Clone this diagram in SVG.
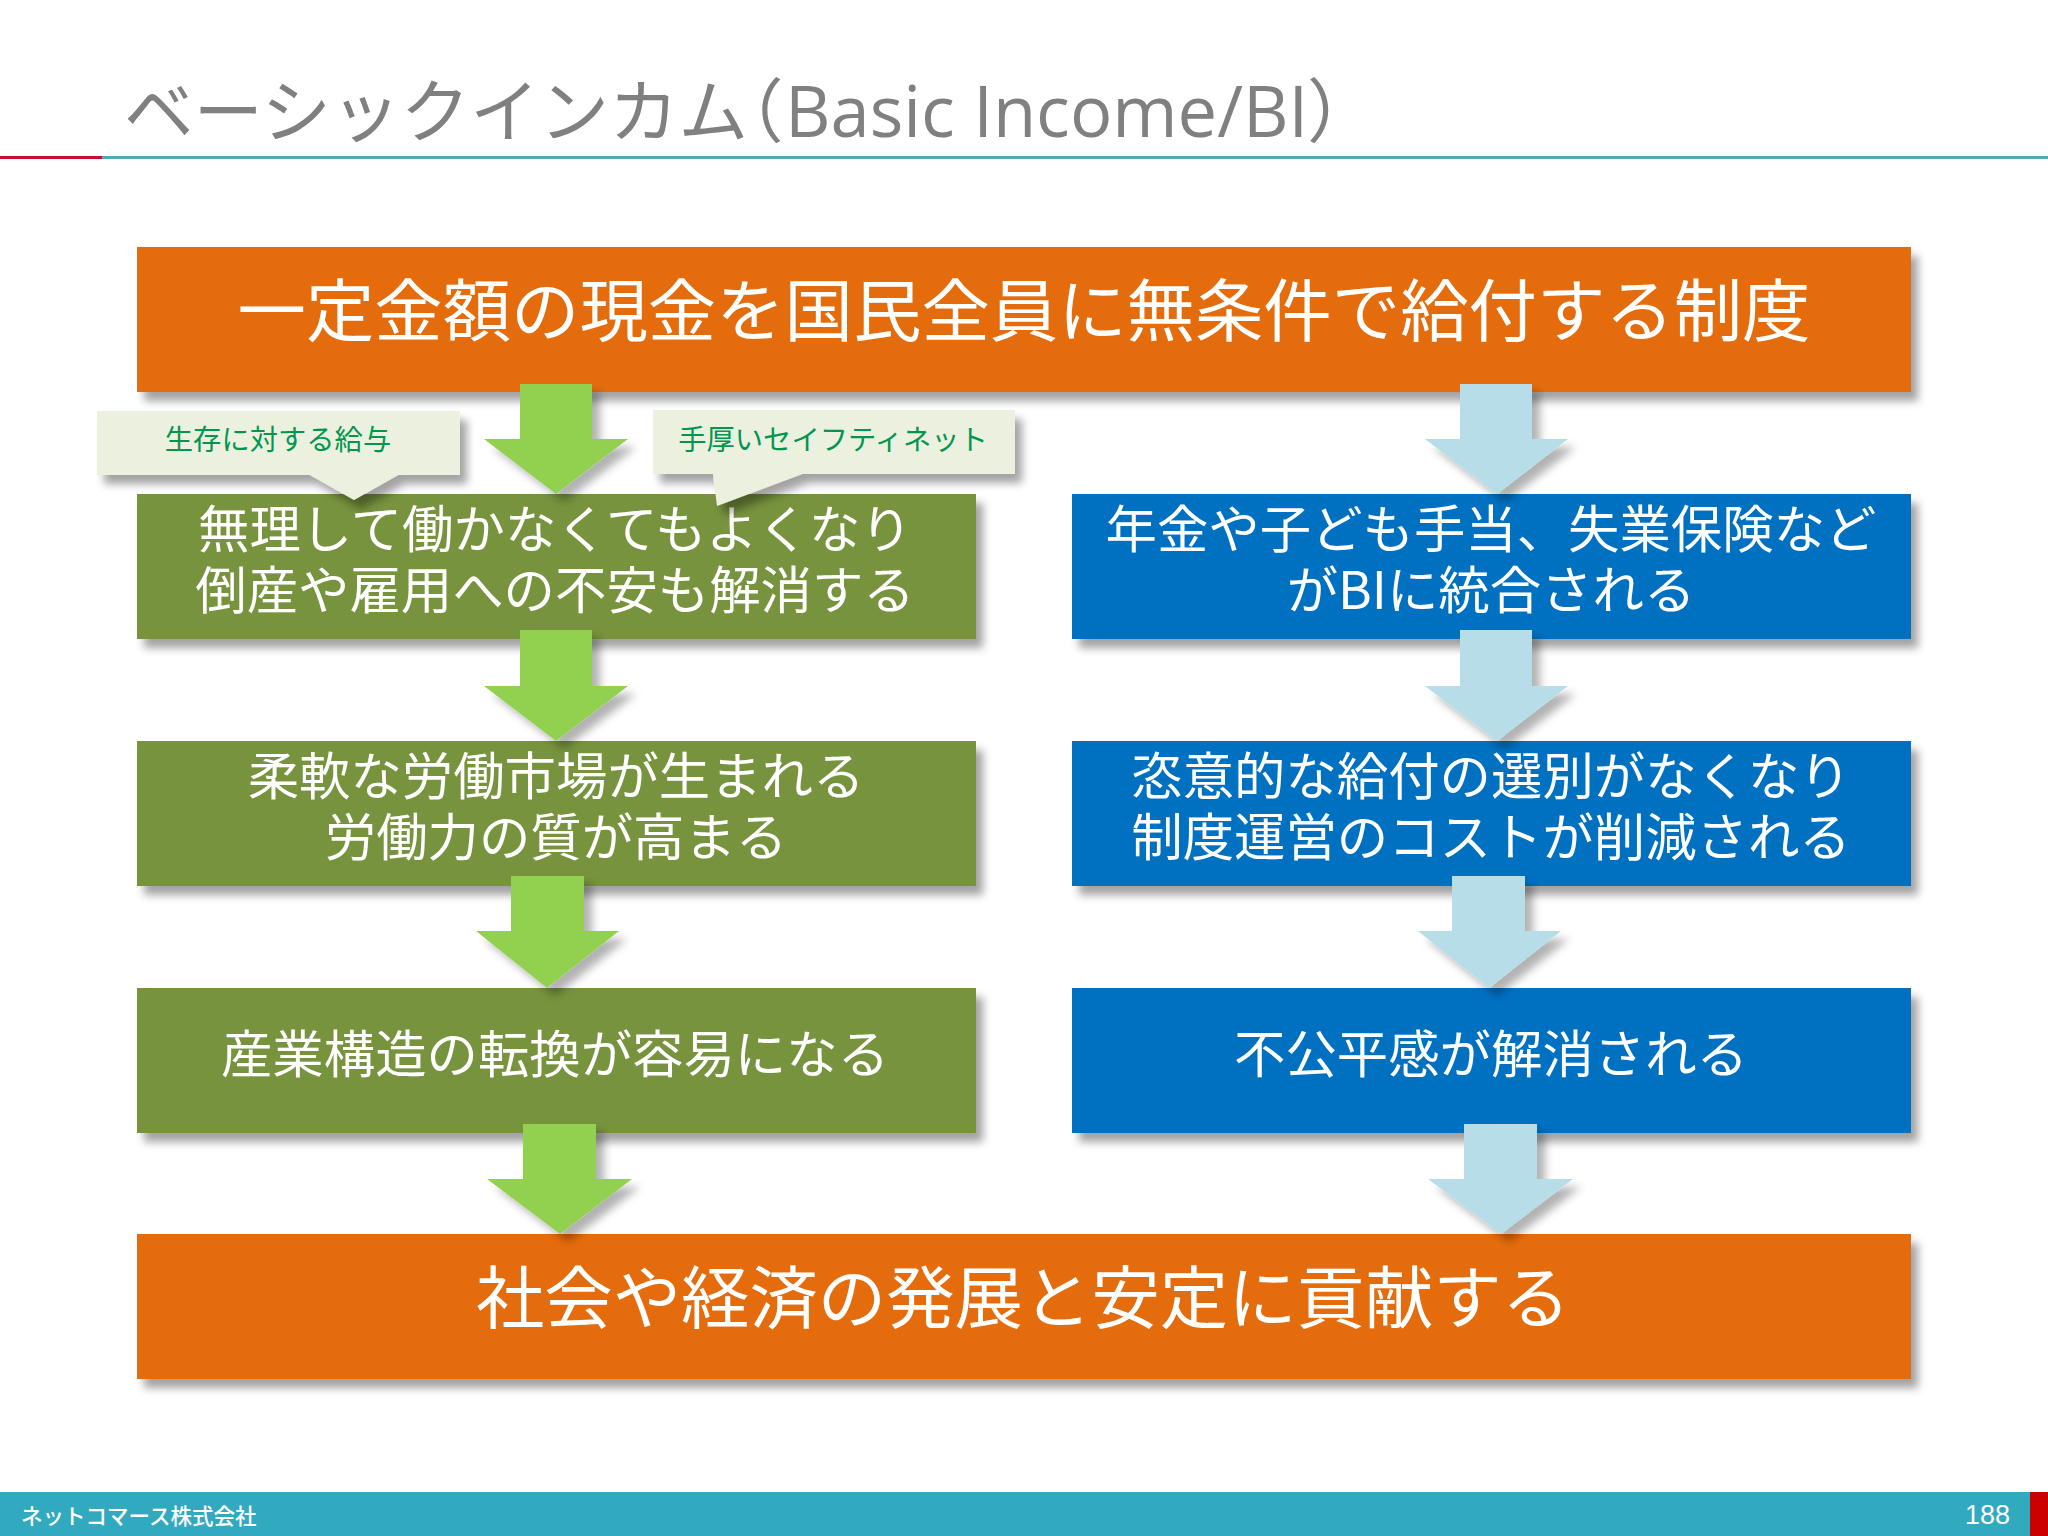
<svg xmlns="http://www.w3.org/2000/svg" width="2048" height="1536" viewBox="0 0 2048 1536">
<defs>
<filter id="sh" x="-10%" y="-20%" width="120%" height="150%"><feDropShadow dx="7" dy="9" stdDeviation="4.5" flood-color="#000" flood-opacity="0.36"/></filter>
<filter id="sha" x="-30%" y="-30%" width="170%" height="170%"><feDropShadow dx="8" dy="8" stdDeviation="4.5" flood-color="#000" flood-opacity="0.3"/></filter>
</defs>
<style>
text{font-family:"Noto Sans CJK JP","Noto Sans",sans-serif;font-weight:400}
.o{fill:#E46C0A;filter:url(#sh)}
.g{fill:#77933C;filter:url(#sh)}
.b{fill:#0070C0;filter:url(#sh)}
.ag{fill:#92D050;filter:url(#sha)}
.ab{fill:#B7DEE8;filter:url(#sha)}
.c{fill:#EBF1DE;filter:url(#sh)}
.t{fill:#fff;text-anchor:middle;font-size:51.4px}
.tl{fill:#fff;text-anchor:middle;font-size:68.4px}
.ct{fill:#00964F;text-anchor:middle;font-size:28.3px}
</style>
<rect width="2048" height="1536" fill="#fff"/>
<g id="header">
<text x="124" y="137" font-size="69.5" fill="#808080">ベーシックインカム<tspan x="714">（</tspan><tspan x="785" font-family="'Open Sans',sans-serif" font-size="70.5">Basic Income/BI</tspan><tspan x="1307">）</tspan></text>
<rect x="0" y="156" width="102" height="3" fill="#C8102E"/>
<rect x="102" y="156" width="1946" height="3" fill="#4FA9B8"/>
</g>
<g id="node-top"><rect class="o" x="137" y="247" width="1774" height="145"/><text class="tl" x="1024" y="336">一定金額の現金を国民全員に無条件で給付する制度</text></g>
<g id="node-g1"><rect class="g" x="137" y="494" width="839" height="145"/><text class="t" x="555" y="548">無理して働かなくてもよくなり</text><text class="t" x="555" y="609">倒産や雇用への不安も解消する</text></g>
<g id="node-b1"><rect class="b" x="1072" y="494" width="839" height="145"/><text class="t" x="1491" y="548">年金や子ども手当、失業保険など</text><text class="t" x="1491" y="609">がBIに統合される</text></g>
<g id="node-g2"><rect class="g" x="137" y="741" width="839" height="145"/><text class="t" x="556" y="795">柔軟な労働市場が生まれる</text><text class="t" x="556" y="856">労働力の質が高まる</text></g>
<g id="node-b2"><rect class="b" x="1072" y="741" width="839" height="145"/><text class="t" x="1491" y="795">恣意的な給付の選別がなくなり</text><text class="t" x="1491" y="856">制度運営のコストが削減される</text></g>
<g id="node-g3"><rect class="g" x="137" y="988" width="839" height="145"/><text class="t" x="555" y="1073">産業構造の転換が容易になる</text></g>
<g id="node-b3"><rect class="b" x="1072" y="988" width="839" height="145"/><text class="t" x="1491" y="1073">不公平感が解消される</text></g>
<g id="node-bottom"><rect class="o" x="137" y="1234" width="1774" height="145"/><text class="tl" x="1023" y="1323">社会や経済の発展と安定に貢献する</text></g>
<g id="connectors">
<polygon class="ag" points="520,384 592,384 592,439 628,439 556,494 484,439 520,439"/>
<polygon class="ab" points="1460,384 1532,384 1532,439 1568,439 1497,494 1425,439 1460,439"/>
<polygon class="ag" points="520,630 592,630 592,686 628,686 556,741 484,686 520,686"/>
<polygon class="ab" points="1460,630 1532,630 1532,686 1568,686 1497,741 1425,686 1460,686"/>
<polygon class="ag" points="511,876 584,876 584,931 619,931 547,988 476,931 511,931"/>
<polygon class="ab" points="1452,876 1525,876 1525,931 1561,931 1489,988 1418,931 1452,931"/>
<polygon class="ag" points="523,1124 596,1124 596,1179 632,1179 560,1234 487,1179 523,1179"/>
<polygon class="ab" points="1464,1124 1537,1124 1537,1179 1573,1179 1501,1234 1428,1179 1464,1179"/>
</g>
<g id="callout-left"><polygon class="c" points="97,411 460,411 460,475 398,475 354,500 310,475 97,475"/><text class="ct" x="278" y="450">生存に対する給与</text></g>
<g id="callout-right"><polygon class="c" points="653,410 1015,410 1015,474 802,474 717,506 713,474 653,474"/><text class="ct" x="833" y="450">手厚いセイフティネット</text></g>
<g id="footer">
<rect x="0" y="1492" width="2030" height="44" fill="#31A9BF"/>
<rect x="2030" y="1492" width="18" height="44" fill="#CC0000"/>
<text x="21" y="1524" font-size="21.5" fill="#fff" style="font-weight:500">ネットコマース株式会社</text>
<text x="2010" y="1524" font-size="27" fill="#fff" text-anchor="end" style="font-family:'Liberation Sans',sans-serif">188</text>
</g>
</svg>
